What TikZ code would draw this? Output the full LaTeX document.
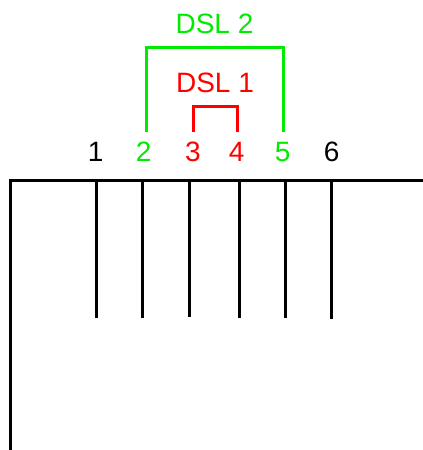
\documentclass[tikz,border=0pt]{standalone}
\usepackage{fontspec}
\setmainfont{Liberation Sans}
\definecolor{dslgreen}{RGB}{0,235,0}
\definecolor{dslred}{RGB}{255,0,0}
\begin{document}
\begin{tikzpicture}[x=1pt,y=-1pt,
  lbl/.style={inner sep=0pt,anchor=base,font=\fontsize{28}{34}\selectfont},
  wire/.style={draw=black,line width=3pt},
  pin/.style={draw=black,line width=2.7pt},
  bracket/.style={line width=3pt,miter limit=10}]
\useasboundingbox (0,0) rectangle (423,450);
% labels
\node[lbl,text=dslgreen] (dsl2) at (214.5,33.3) {DSL 2};
\node[lbl,text=dslred] (dsl1) at (215,92.5) {DSL 1};
\node[lbl] (n1) at (95.7,161.7) {1};
\node[lbl,text=dslgreen] (n2) at (143.7,161.7) {2};
\node[lbl,text=dslred] (n3) at (193,161.7) {3};
\node[lbl,text=dslred] (n4) at (236.7,161.7) {4};
\node[lbl,text=dslgreen] (n5) at (282.7,161.7) {5};
\node[lbl] (n6) at (331.7,161.7) {6};
% main bus
\coordinate (busR) at (430,180.5);
\coordinate (corner) at (10.5,180.5);
\coordinate (busB) at (10.5,455);
\draw[wire] (busR) -- (corner) -- (busB);
% pins
\foreach \i/\x/\b in {1/96.3/317.7,2/142.3/317.7,3/189.3/316.7,4/239.3/317.7,5/285.3/317.7,6/331.3/319}{
  \coordinate (p\i t) at (\x,180.5);
  \coordinate (p\i b) at (\x,\b);
  \draw[pin] (p\i t) -- (p\i b);
}
% brackets
\coordinate (g1) at (146.5,131.7);
\coordinate (g2) at (146.5,47.3);
\coordinate (g3) at (283.7,47.3);
\coordinate (g4) at (283.7,131.7);
\draw[bracket,draw=dslgreen] (g1) -- (g2) -- (g3) -- (g4);
\coordinate (r1) at (193.5,131.7);
\coordinate (r2) at (193.5,106.5);
\coordinate (r3) at (237,106.5);
\coordinate (r4) at (237,131.7);
\draw[bracket,draw=dslred] (r1) -- (r2) -- (r3) -- (r4);
\end{tikzpicture}
\end{document}
